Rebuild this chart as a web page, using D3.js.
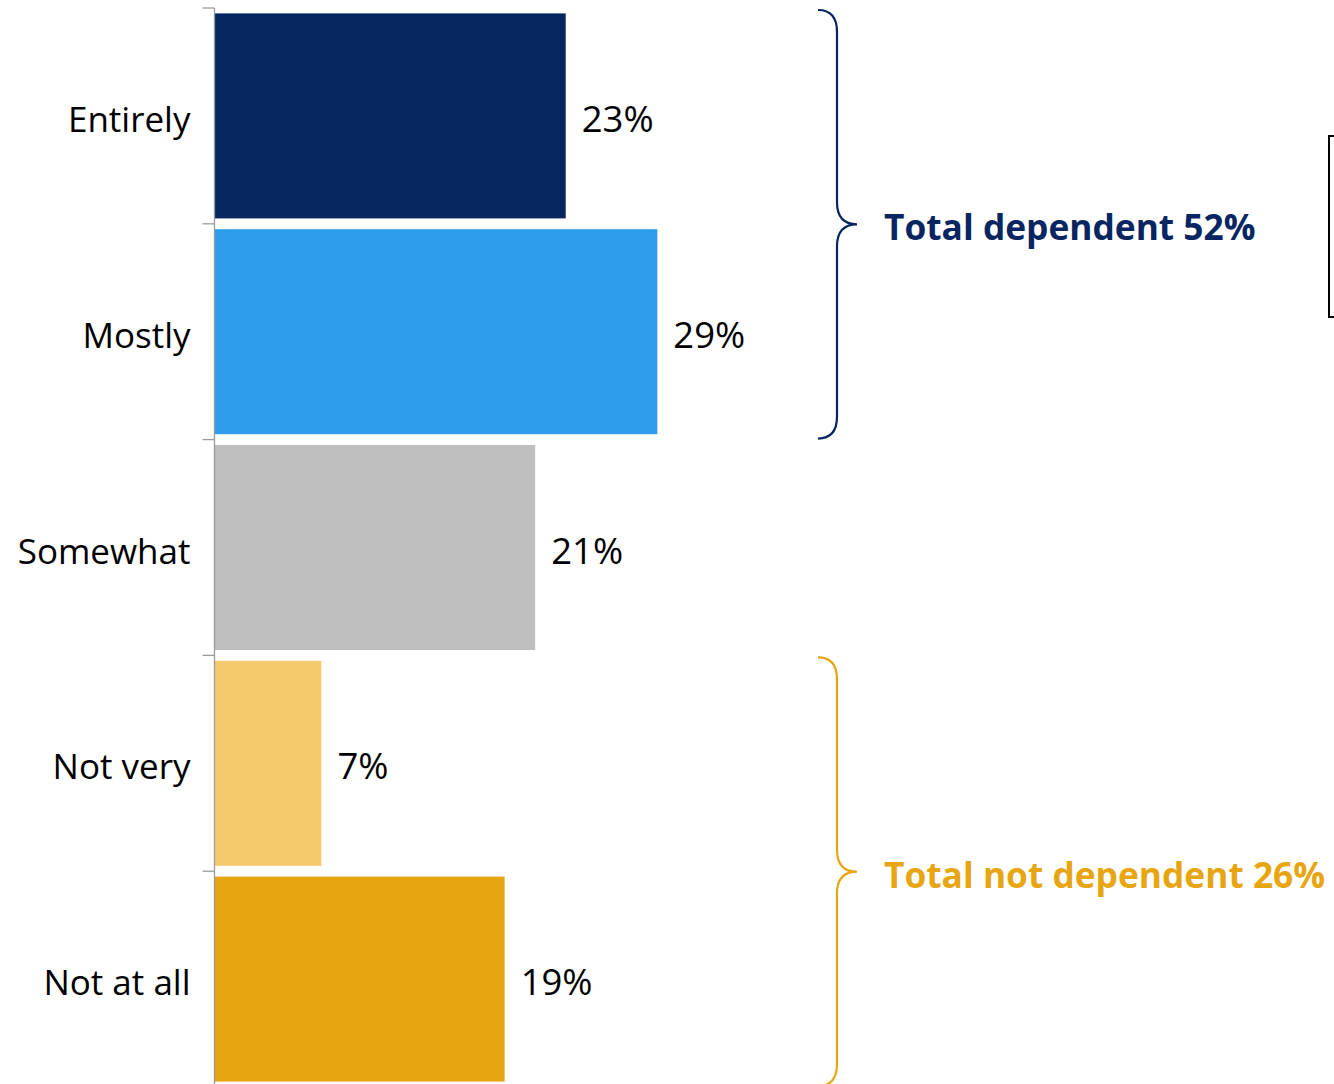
<!DOCTYPE html>
<html>
<head>
<meta charset="utf-8">
<script src="https://cdn.jsdelivr.net/npm/d3@7"></script>
<style>
  html, body { margin: 0; padding: 0; background: #fff; }
  svg { display: block; }
</style>
</head>
<body>
<svg id="chart" width="1334" height="1084"></svg>
<script>
// ---- data ----
const categories = ["Entirely", "Mostly", "Somewhat", "Not very", "Not at all"];
const values = [23, 29, 21, 7, 19];
const valueLabels = ["23%", "29%", "21%", "7%", "19%"];
const barColors = ["#072561", "#2E9DEB", "#BFBFBF", "#F5CA6E", "#E8A512"];
const groupLabels = ["Total dependent 52%", "Total not dependent 26%"];
const groupSpans = [["Entirely", "Mostly"], ["Not very", "Not at all"]];
const groupColors = ["#072561", "#E8A512"];

// ---- layout ----
const svg = d3.select("#chart");
const axisX = 214.5;
const plotTop = 8, bandStep = 215.8;

const y = d3.scaleBand()
  .domain(categories)
  .range([plotTop, plotTop + bandStep * categories.length])
  .paddingInner(0.05)
  .paddingOuter(0.025);

const x = d3.scaleLinear().domain([0, 100]).range([axisX, axisX + 1527]);

const font = "'Open Sans', 'Noto Sans', sans-serif";

// bars
svg.append("g").selectAll("rect")
  .data(categories)
  .join("rect")
  .attr("x", x(0))
  .attr("y", d => y(d))
  .attr("width", (d, i) => x(values[i]) - x(0))
  .attr("height", y.bandwidth())
  .attr("fill", (d, i) => barColors[i]);

// axis line and boundary ticks
const axisG = svg.append("g").attr("stroke", "#9a9a9a").attr("stroke-width", 1.3);
const yStart = y.range()[0], yEnd = y.range()[1];
axisG.append("line").attr("x1", axisX).attr("x2", axisX).attr("y1", yStart).attr("y2", yEnd);
const bounds = categories.map(d => y(d) - y.step() * y.paddingInner() / 2);
bounds[0] = yStart;
bounds.push(yEnd);
axisG.selectAll("line.tick").data(bounds).join("line")
  .attr("class", "tick")
  .attr("x1", axisX - 12).attr("x2", axisX)
  .attr("y1", d => d).attr("y2", d => d);

// category labels
svg.append("g").selectAll("text")
  .data(categories)
  .join("text")
  .attr("x", axisX - 24)
  .attr("y", d => y(d) + y.bandwidth() / 2 + 16)
  .attr("text-anchor", "end")
  .attr("font-family", font)
  .attr("font-size", 35)
  .attr("fill", "#000")
  .text(d => d);

// value labels
svg.append("g").selectAll("text")
  .data(categories)
  .join("text")
  .attr("x", (d, i) => x(values[i]) + 16)
  .attr("y", d => y(d) + y.bandwidth() / 2 + 16)
  .attr("font-family", font)
  .attr("font-size", 36.5)
  .attr("fill", "#000")
  .text((d, i) => valueLabels[i]);

// braces
function bracePath(x0, x1, tip, yT, yB, r) {
  const ym = (yT + yB) / 2;
  return `M${x0},${yT} Q${x1},${yT} ${x1},${yT + r} L${x1},${ym - r} Q${x1},${ym} ${tip},${ym} ` +
         `Q${x1},${ym} ${x1},${ym + r} L${x1},${yB - r} Q${x1},${yB} ${x0},${yB}`;
}
groupSpans.forEach((span, gi) => {
  const yT = y(span[0]) - y.step() * y.paddingInner() / 2 + 2;
  const yB = y(span[1]) + y.bandwidth() + y.step() * y.paddingInner() / 2 - 1;
  svg.append("path")
    .attr("d", bracePath(818, 837, 857, yT, yB, 22))
    .attr("fill", "none")
    .attr("stroke", groupColors[gi])
    .attr("stroke-width", 2.2);
  svg.append("text")
    .attr("x", 884)
    .attr("y", (yT + yB) / 2 + 16)
    .attr("font-family", font)
    .attr("font-weight", "bold")
    .attr("font-size", 35.3)
    .attr("fill", groupColors[gi])
    .text(groupLabels[gi]);
});

// partially visible box at right edge
svg.append("rect")
  .attr("x", 1329).attr("y", 136)
  .attr("width", 40).attr("height", 181)
  .attr("fill", "none")
  .attr("stroke", "#000")
  .attr("stroke-width", 2);
</script>
</body>
</html>
